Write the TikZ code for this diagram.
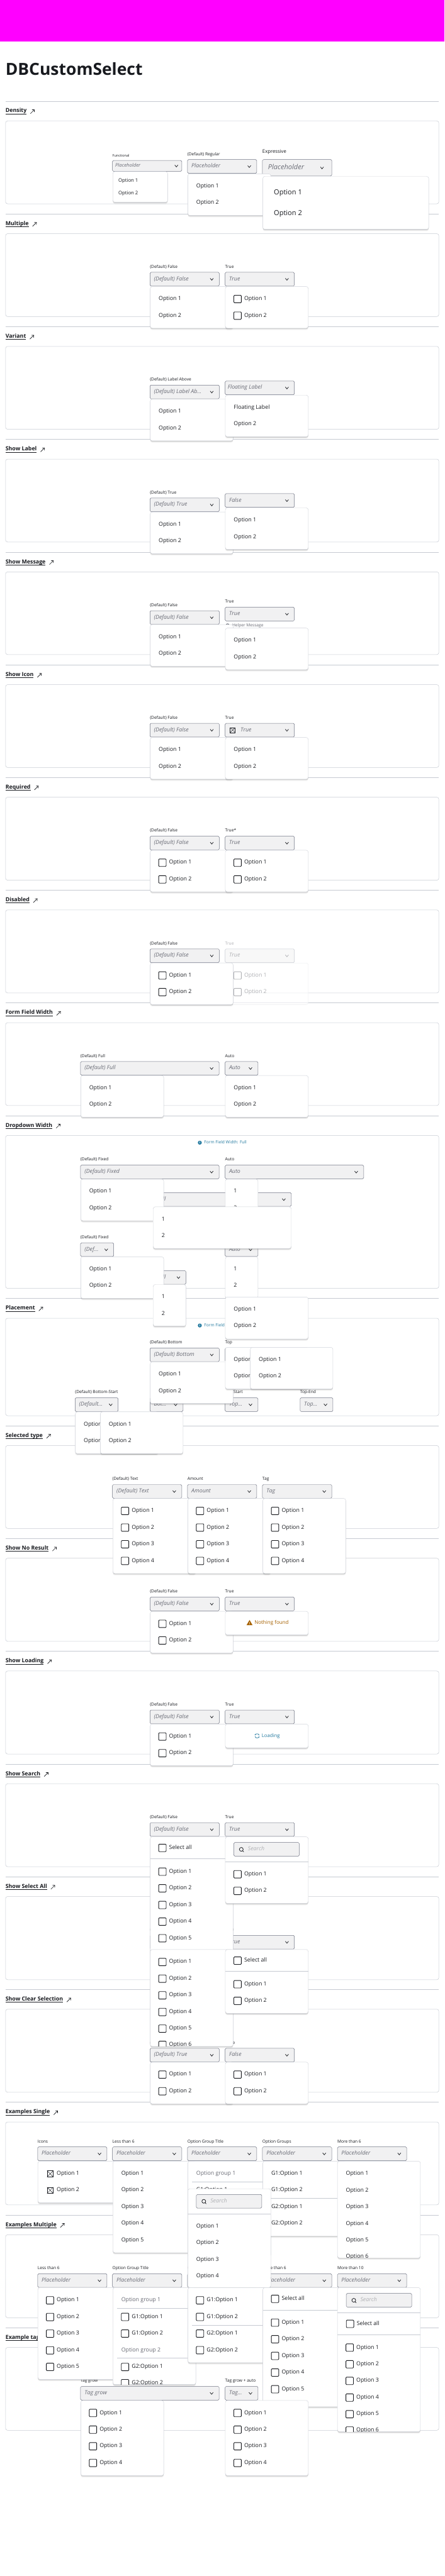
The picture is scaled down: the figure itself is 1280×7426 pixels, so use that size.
\documentclass[tikz,border=0pt]{standalone}
\usepackage{fontspec}
\setmainfont{Open Sans}
\usetikzlibrary{arrows.meta, shapes.geometric, positioning, shadows}
\definecolor{dbink}{RGB}{24,26,31}
\definecolor{dbmuted}{RGB}{104,106,116}
\definecolor{dbfield}{RGB}{241,241,242}
\definecolor{dbedge}{RGB}{108,112,128}
\definecolor{dbline}{RGB}{198,202,210}
\definecolor{dbfaint}{RGB}{175,176,180}
\definecolor{dbinfo}{RGB}{36,122,160}
\definecolor{dbwarn}{RGB}{166,97,0}
\definecolor{dbpink}{RGB}{255,0,255}
\pgfdeclarelayer{menu}
\pgfsetlayers{main,menu}

\newcommand{\sechead}[4]{%
  \coordinate (#1ra) at (16,#2); \coordinate (#1rb) at (1264,#2);
  \draw[secrule] (#1ra)--(#1rb);
  \node[sectitle] (#1) at (16,{#2+29}) {#3};
  \draw[secrule, dbink, line width=1pt] (#1.south west)--(#1.south east);
  \draw[linkarrow] ([shift={(11,7)}]#1.east)--([shift={(23,-5)}]#1.east);
  \node[card, minimum height={(#4-#2-57)*1pt}] (#1c) at (16,{#2+57}) {};}
\newcommand{\chev}[3][dbink]{%
  \draw[chevron,#1] ([shift={(-#3-4.5,-2.5)}]#2.east)--([shift={(-#3,3)}]#2.east)--([shift={(-#3+4.5,-2.5)}]#2.east);}
\newcommand{\selbare}[5]{%
  \node[field, minimum width=#4pt] (#1) at (#2,#3) {};
  \node[fieldtext] (#1t) at ([xshift=11.5pt]#1.west) {#5};
  \chev{#1}{21.5}}
\newcommand{\selbox}[6]{%
  \selbare{#1}{#2}{#3}{#4}{#5}
  \node[fieldlabel] (#1l) at ([yshift=15pt]#1.north west) {#6};}
\newcommand{\ddbox}[5]{%
  \begin{pgfonlayer}{menu}
  \node[ddmenu, minimum width=#4pt, minimum height=#5pt] (#1) at (#2,#3) {};
  \end{pgfonlayer}}
\newcommand{\ddrow}[6][]{%
  \begin{pgfonlayer}{menu}
  \node[opttext,#1] (#2#3) at ([shift={(#4,#5)}]#2.north west) {#6};
  \end{pgfonlayer}}
\newcommand{\ddchk}[6][dbink]{%
  \begin{pgfonlayer}{menu}
  \node[chkbox, draw=#1] (#2#3b) at ([shift={(#4,#5)}]#2.north west) {};
  \node[opttext, text=#1, right=8.5pt of #2#3b] (#2#3) {#6};
  \end{pgfonlayer}}
\newcommand{\ddx}[5]{%
  \begin{pgfonlayer}{menu}
  \node[iconbox, minimum size=18pt] (#1#2b) at ([shift={(#3,#4)}]#1.north west) {};
  \draw[iconbar] (#1#2b.north west)--(#1#2b.south east); \draw[iconbar] (#1#2b.north east)--(#1#2b.south west);
  \node[opttext, right=10pt of #1#2b] (#1#2) {#5};
  \end{pgfonlayer}}
\newcommand{\ddline}[4]{%
  \begin{pgfonlayer}{menu}
  \draw[secrule] ([shift={(#2,#3)}]#1.north west)--([shift={(#4,#3)}]#1.north west);
  \end{pgfonlayer}}
\newcommand{\optrows}[3]{%
  \foreach \i [evaluate=\i as \rowy using #2+(\i-1)*48] in {1,...,#3} {\ddrow{#1}{o\i}{24.5}{\rowy}{Option \i}}}
\newcommand{\chkrows}[3]{%
  \foreach \i [evaluate=\i as \rowy using #2+(\i-1)*48] in {1,...,#3} {\ddchk{#1}{o\i}{24.5}{\rowy}{Option \i}}}
\newcommand{\plainmenu}[6]{\ddbox{#1}{#2}{#3}{#4}{#5}\optrows{#1}{36}{#6}}
\newcommand{\checkmenu}[6]{\ddbox{#1}{#2}{#3}{#4}{#5}\chkrows{#1}{36}{#6}}
\newcommand{\nummenu}[5]{\ddbox{#1}{#2}{#3}{#4}{#5}\ddrow{#1}{n1}{24.5}{36}{1}\ddrow{#1}{n2}{24.5}{84}{2}}
\newcommand{\cutopt}[3]{%
  \begin{pgfonlayer}{menu}\begin{scope}
  \clip (#1.south west) rectangle (#1.north east);
  \node[opttext] (#1cut) at ([shift={(24.5,#2)}]#1.north west) {#3};
  \end{scope}\end{pgfonlayer}}
\newcommand{\cutchk}[3]{%
  \begin{pgfonlayer}{menu}\begin{scope}
  \clip (#1.south west) rectangle (#1.north east);
  \node[chkbox] (#1cutb) at ([shift={(24.5,#2)}]#1.north west) {};
  \node[opttext, right=8.5pt of #1cutb] (#1cut) {#3};
  \end{scope}\end{pgfonlayer}}
\newcommand{\ddsearch}[4]{%
  \begin{pgfonlayer}{menu}
  \node[field, minimum width=#4pt] (#1s) at ([shift={(#2,#3)}]#1.north west) {};
  \node[lens] (#1g) at ([xshift=21.5pt]#1s.west) {};
  \draw[lensbar] (#1g.south east)--([shift={(3,3.5)}]#1g.south east);
  \node[searchtext] (#1st) at ([xshift=40.5pt]#1s.west) {Search};
  \end{pgfonlayer}}

\begin{document}
\begin{tikzpicture}[
  x=1pt, y=-1pt,
  flat/.style={inner sep=0pt, outer sep=0pt},
  fs/.style={font=\fontsize{#1}{#1}\selectfont, text height=#1*.75pt, text depth=#1*.25pt},
  secrule/.style={draw=dbline, line width=.9pt},
  sectitle/.style={flat, anchor=west, fs=16, text=dbink, execute at begin node=\bfseries},
  linkarrow/.style={dbink, line width=1.2pt, -{Straight Barb[length=5pt, width=9pt]}},
  card/.style={flat, anchor=north west, draw=dbline, line width=.9pt, rounded corners=6pt, minimum width=1248pt},
  field/.style={flat, anchor=north west, draw=dbedge, fill=dbfield, line width=.9pt, rounded corners=3pt, minimum height=39.5pt},
  fieldtext/.style={flat, anchor=west, fs=16, text=dbmuted, execute at begin node=\itshape},
  fieldlabel/.style={flat, anchor=west, fs=12, text=dbink},
  chevron/.style={line width=1.3pt},
  ddmenu/.style={flat, anchor=north west, fill=white, draw=dbline!85, line width=.8pt, rounded corners=6pt,
                 drop shadow={shadow xshift=0pt, shadow yshift=-5pt, opacity=.12},
                 drop shadow={shadow xshift=0pt, shadow yshift=-2.5pt, opacity=.28}},
  ddflat/.style={flat, anchor=north west, fill=white, fill opacity=.6, draw=dbline!40, line width=.6pt, rounded corners=6pt},
  opttext/.style={flat, anchor=west, fs=16, text=dbink},
  grouptext/.style={text=dbmuted},
  chkbox/.style={flat, anchor=west, draw=dbink, fill=white, line width=1.6pt, rounded corners=2pt, minimum size=21.5pt},
  iconbox/.style={flat, anchor=west, draw=dbink, line width=.8pt},
  iconbar/.style={dbink, line width=.8pt},
  lens/.style={flat, circle, draw=dbink, line width=1.4pt, minimum size=11pt},
  lensbar/.style={dbink, line width=1.4pt},
  searchtext/.style={flat, anchor=west, fs=16, text=dbfaint, execute at begin node=\itshape},
  infodot/.style={flat, circle, fill=dbinfo, text=white, minimum size=11.5pt, font=\fontsize{9}{9}\selectfont\bfseries},
  infotext/.style={flat, anchor=west, fs=12, text=dbinfo},
  helpdot/.style={flat, circle, fill=dbmuted, text=white, minimum size=11.5pt, font=\fontsize{9}{9}\selectfont\bfseries},
  helptext/.style={flat, anchor=west, fs=12, text=dbmuted},
  warnmark/.style={flat, regular polygon, regular polygon sides=3, fill=dbwarn, text=white, minimum size=20pt, font=\fontsize{9}{9}\selectfont\bfseries},
  spin/.style={dbinfo, line width=1.5pt, -{Stealth[length=3.5pt]}}
]
\fill[white] (0,0) rectangle (1280,7426);
\useasboundingbox (0,0) rectangle (1280,7426);
\node[flat, anchor=north west, fill=dbpink, minimum width=1280pt, minimum height=119pt] (banner) at (0,0) {};
\node[flat, anchor=base west, font=\fontsize{48}{48}\selectfont\bfseries, text=dbink] (pagetitle) at (16,216) {DBCustomSelect};

\sechead{dns}{291.5}{Density}{587.5}
\node[field, minimum width=199.5pt, minimum height=31.5pt] (dnsF) at (324,462.5) {};
\node[fieldtext, fs=14] (dnsFt) at ([xshift=8pt]dnsF.west) {Placeholder};
\node[fieldlabel, fs=10] (dnsFl) at ([yshift=13pt]dnsF.north west) {Functional};
\chev{dnsF}{15.5}
\selbox{dnsR}{540}{460}{199.5}{Placeholder}{(Default) Regular}
\node[field, minimum width=199.5pt, minimum height=47.5pt] (dnsE) at (756,460) {};
\node[fieldtext, fs=20] (dnsEt) at ([xshift=16pt]dnsE.west) {Placeholder};
\node[fieldlabel, fs=14] (dnsEl) at ([yshift=22pt]dnsE.north west) {Expressive};
\chev{dnsE}{28}
\ddbox{dnsFm}{325}{494.6}{158}{88.4}
\ddrow[fs=14]{dnsFm}{o1}{16}{26.4}{Option 1}
\ddrow[fs=14]{dnsFm}{o2}{16}{62.4}{Option 2}
\plainmenu{dnsRm}{541}{501}{239}{120}{2}
\ddbox{dnsEm}{757}{508.5}{478}{152.5}
\ddrow[fs=20]{dnsEm}{o1}{32}{47.5}{Option 1}
\ddrow[fs=20]{dnsEm}{o2}{32}{107.5}{Option 2}

\sechead{mul}{616.5}{Multiple}{912.5}
\selbox{mulA}{432}{785}{199.5}{(Default) False}{(Default) False}
\selbox{mulB}{648.5}{785}{199.5}{True}{True}
\plainmenu{mulAm}{432.6}{826}{239}{120}{2}
\checkmenu{mulBm}{649}{826}{239}{120}{2}

\sechead{vrn}{941.5}{Variant}{1237.5}
\selbox{vrnA}{432}{1110}{199.5}{(Default) Label Ab...}{(Default) Label Above}
\selbare{vrnB}{648.5}{1098.4}{199.5}{}
\node[fieldtext] (vrnBf) at ([xshift=7.5pt]vrnB.west) {Floating Label};
\plainmenu{vrnAm}{432.6}{1150.8}{239}{120}{2}
\ddbox{vrnBm}{649}{1139}{239}{120}
\ddrow{vrnBm}{o1}{24.5}{36}{Floating Label}
\ddrow{vrnBm}{o2}{24.5}{84}{Option 2}

\sechead{lbl}{1266.5}{Show Label}{1562.5}
\selbox{lblA}{432}{1435.5}{199.5}{(Default) True}{(Default) True}
\selbare{lblB}{648.5}{1423}{199.5}{False}
\plainmenu{lblAm}{432.6}{1476}{239}{120}{2}
\plainmenu{lblBm}{649}{1464}{239}{120}{2}

\sechead{msg}{1591.5}{Show Message}{1887}
\selbox{msgA}{432}{1760.4}{199.5}{(Default) False}{(Default) False}
\selbox{msgB}{648.5}{1750.4}{199.5}{True}{True}
\node[helpdot] (msgBi) at (655.5,1803) {i};
\node[helptext] (msgBh) at (669,1803) {Helper Message};
\plainmenu{msgAm}{432.6}{1800.6}{239}{120}{2}
\plainmenu{msgBm}{649}{1810.5}{239}{120}{2}

\sechead{icn}{1916.5}{Show Icon}{2212.5}
\selbox{icnA}{432}{2085}{199.5}{(Default) False}{(Default) False}
\selbox{icnB}{648.5}{2085}{199.5}{}{True}
\node[iconbox, minimum size=14pt] (icnBx) at ([xshift=14.5pt]icnB.west) {};
\draw[iconbar] (icnBx.north west)--(icnBx.south east); \draw[iconbar] (icnBx.north east)--(icnBx.south west);
\node[fieldtext, right=16pt of icnBx] (icnBt2) {True};
\plainmenu{icnAm}{432.6}{2126}{239}{120}{2}
\plainmenu{icnBm}{649}{2126}{239}{120}{2}

\sechead{req}{2241}{Required}{2537.5}
\selbox{reqA}{432}{2410.5}{199.5}{(Default) False}{(Default) False}
\selbox{reqB}{648.5}{2410.5}{199.5}{True}{True*}
\checkmenu{reqAm}{432.6}{2451}{239}{120}{2}
\checkmenu{reqBm}{649}{2451}{239}{120}{2}

\sechead{dis}{2566}{Disabled}{2862.5}
\selbox{disA}{432}{2735.4}{199.5}{(Default) False}{(Default) False}
\node[field, draw=dbline, fill=dbfield!50, minimum width=199.5pt] (disB) at (648.5,2735.4) {};
\node[fieldtext, text=dbfaint] (disBt) at ([xshift=11.5pt]disB.west) {True};
\node[fieldlabel, text=dbfaint] (disBl) at ([yshift=15pt]disB.north west) {True};
\chev[dbfaint]{disB}{21.5}
\begin{pgfonlayer}{menu}
\node[ddflat, minimum width=239pt, minimum height=120pt] (disBm) at (649,2776) {};
\end{pgfonlayer}
\ddchk[dbfaint]{disBm}{o1}{24.5}{36}{Option 1}
\ddchk[dbfaint]{disBm}{o2}{24.5}{84}{Option 2}
\checkmenu{disAm}{432.6}{2776}{239}{120}{2}

\sechead{ffw}{2891}{Form Field Width}{3187}
\selbox{ffwA}{232}{3060}{399}{(Default) Full}{(Default) Full}
\selbox{ffwB}{648.5}{3060}{94.5}{Auto}{Auto}
\plainmenu{ffwAm}{232.6}{3100.5}{239}{120}{2}
\plainmenu{ffwBm}{649}{3100.5}{239}{120}{2}

\sechead{ddw}{3216}{Dropdown Width}{3714}
\node[infodot] (ddwi) at (575.5,3294) {i};
\node[infotext, right=7pt of ddwi] (ddwit) {Form Field Width: Full};
\selbox{ddwA}{232}{3358.7}{399}{(Default) Fixed}{(Default) Fixed}
\selbox{ddwB}{648.5}{3358.7}{399}{Auto}{Auto}
\selbare{ddwC}{441}{3438}{398}{Full}
\selbox{ddwD}{232}{3582.7}{95.5}{(Def...}{(Default) Fixed}
\selbare{ddwE}{648.5}{3582.7}{94.5}{Auto}
\selbare{ddwF}{441}{3662.8}{94.5}{Full}
\plainmenu{ddwAm}{232.6}{3399}{239}{120}{2}
\nummenu{ddwBm}{649}{3399}{94}{120}
\nummenu{ddwCm}{441}{3479}{398}{120}
\plainmenu{ddwDm}{232.6}{3623}{239}{120}{2}
\nummenu{ddwEm}{649}{3623}{94}{120}
\nummenu{ddwFm}{441}{3703}{94.5}{120}

\sechead{plc}{3743}{Placement}{4081}
\node[infodot] (plci) at (575.5,3821) {i};
\node[infotext, right=7pt of plci] (plcit) {Form Field Width: Full};
\selbox{plcA}{432}{3885.7}{199.5}{(Default) Bottom}{(Default) Bottom}
\selbox{plcB}{648.5}{3885.7}{199.5}{Top}{Top}
\selbox{plcC}{216.3}{4029.5}{124}{(Default...}{(Default) Bottom-Start}
\selbare{plcD}{432}{4029.5}{95.3}{Bot...}
\selbox{plcE}{648.5}{4029.5}{94.5}{Top...}{Top-Start}
\selbox{plcF}{864.5}{4029.5}{94.5}{Top...}{Top-End}
\plainmenu{plcAm}{432.6}{3926}{239}{120}{2}
\plainmenu{plcBm}{649}{3739}{239}{121}{2}
\plainmenu{plcCm}{217}{4070}{239}{120.6}{2}
\plainmenu{plcDm}{289}{4070}{238.3}{120.6}{2}
\plainmenu{plcEm}{649}{3884}{239}{120}{2}
\plainmenu{plcFm}{721}{3884}{238}{120}{2}

\sechead{typ}{4110}{Selected type}{4406}
\selbox{typA}{324}{4279.5}{199.5}{(Default) Text}{(Default) Text}
\selbox{typB}{540}{4279.5}{199.5}{Amount}{Amount}
\selbox{typC}{756}{4279.5}{199.5}{Tag}{Tag}
\checkmenu{typAm}{325}{4319.6}{239}{216.4}{4}
\checkmenu{typBm}{541}{4319.6}{239}{216.4}{4}
\checkmenu{typCm}{757}{4319.6}{239}{216.4}{4}

\sechead{nrs}{4435}{Show No Result}{4731.5}
\selbox{nrsA}{432}{4604}{199.5}{(Default) False}{(Default) False}
\selbox{nrsB}{648.5}{4604}{199.5}{True}{True}
\checkmenu{nrsAm}{432.6}{4645}{239}{120}{2}
\ddbox{nrsBm}{649}{4645}{239}{68}
\begin{pgfonlayer}{menu}
\node[warnmark] (nrsBw) at ([shift={(69.8,35)}]nrsBm.north west) {!};
\node[infotext, fs=14.5, text=dbwarn] (nrsBt) at ([shift={(84,34)}]nrsBm.north west) {Nothing found};
\end{pgfonlayer}

\sechead{lod}{4760}{Show Loading}{5056.5}
\selbox{lodA}{432}{4929.5}{199.5}{(Default) False}{(Default) False}
\selbox{lodB}{648.5}{4929.5}{199.5}{True}{True}
\checkmenu{lodAm}{432.6}{4970}{239}{120}{2}
\ddbox{lodBm}{649}{4970}{239}{68.6}
\begin{pgfonlayer}{menu}
\coordinate (lodBc) at ([shift={(91.5,34)}]lodBm.north west);
\draw[spin] ([shift={(6,-2)}]lodBc) arc[start angle=-20, end angle=-170, radius=6.3];
\draw[spin] ([shift={(-6,2)}]lodBc) arc[start angle=160, end angle=10, radius=6.3];
\node[infotext, fs=14] (lodBt) at ([shift={(105,34)}]lodBm.north west) {Loading};
\end{pgfonlayer}

\sechead{src}{5085}{Show Search}{5381}
\selbox{srcA}{432}{5254.3}{199.5}{(Default) False}{(Default) False}
\selbox{srcB}{648.5}{5254.3}{199.5}{True}{True}
\ddbox{srcAm}{432.6}{5295}{239}{340}
\ddchk{srcAm}{all}{24.5}{32}{Select all}
\ddline{srcAm}{0}{63.5}{239}
\chkrows{srcAm}{100.5}{5}
\ddbox{srcBm}{649}{5295}{239}{192}
\ddsearch{srcBm}{24.5}{16.4}{188.5}
\ddline{srcBm}{0}{71.5}{239}
\chkrows{srcBm}{108}{2}

\sechead{all}{5410}{Show Select All}{5707}
\selbox{allA}{432}{5579}{199.5}{(Default) False}{(Default) False}
\selbox{allB}{648.5}{5579}{199.5}{True}{True}
\ddbox{allAm}{432.6}{5620}{239}{279}
\chkrows{allAm}{36}{5}
\cutchk{allAm}{275}{Option 6}
\ddbox{allBm}{649}{5620}{239}{184}
\ddchk{allBm}{all}{24.5}{32}{Select all}
\ddline{allBm}{0}{63}{239}
\chkrows{allBm}{100}{2}

\sechead{clr}{5735}{Show Clear Selection}{6031.5}
\selbox{clrA}{432}{5904.5}{199.5}{(Default) True}{(Default) True}
\selbox{clrB}{648.5}{5904.5}{199.5}{False}{False}
\checkmenu{clrAm}{432.6}{5944.5}{239}{120.3}{2}
\checkmenu{clrBm}{649}{5944.5}{239}{120.3}{2}

\sechead{esi}{6060}{Examples Single}{6356}
\selbox{esiA}{108.6}{6189}{199.5}{Placeholder}{Icons}
\selbox{esiB}{324}{6189}{199.5}{Placeholder}{Less than 6}
\selbox{esiC}{540}{6189}{199.5}{Placeholder}{Option Group Title}
\selbox{esiD}{756}{6189}{199.5}{Placeholder}{Option Groups}
\selbox{esiE}{972}{6189}{199.5}{Placeholder}{More than 6}
\ddbox{esiAm}{109}{6230}{239}{120}
\ddx{esiAm}{o1}{26.5}{36.5}{Option 1}
\ddx{esiAm}{o2}{26.5}{84}{Option 2}
\plainmenu{esiBm}{325}{6230}{239}{264}{5}
\ddbox{esiCm}{541}{6230}{239}{275}
\ddrow[grouptext]{esiCm}{g1}{24.5}{36.5}{Option group 1}
\ddline{esiCm}{11.6}{59.3}{239}
\ddrow{esiCm}{o1}{24.5}{84}{G1:Option 1}
\ddbox{esiDm}{757}{6230}{239}{216}
\ddrow{esiDm}{o1}{24.5}{36.5}{G1:Option 1}
\ddrow{esiDm}{o2}{24.5}{84}{G1:Option 2}
\ddline{esiDm}{11.6}{107}{239}
\ddrow{esiDm}{o3}{24.5}{132}{G2:Option 1}
\ddrow{esiDm}{o4}{24.5}{180}{G2:Option 2}
\ddbox{esiEm}{972}{6230}{239}{279}
\optrows{esiEm}{36.5}{5}
\cutopt{esiEm}{275}{Option 6}
\ddbox{esiSm}{541}{6309.6}{239}{285}
\ddsearch{esiSm}{24.5}{16.4}{188.5}
\ddline{esiSm}{0}{72}{239}
\optrows{esiSm}{108.8}{4}

\sechead{emu}{6385}{Examples Multiple}{6681.5}
\selbox{emuA}{108.6}{6554.5}{199.5}{Placeholder}{Less than 6}
\selbox{emuB}{324}{6554.5}{199.5}{Placeholder}{Option Group Title}
\selbox{emuC}{540}{6554.5}{199.5}{Placeholder}{Option Groups}
\selbox{emuD}{756}{6554.5}{199.5}{Placeholder}{More than 6}
\selbox{emuE}{972}{6554.5}{199.5}{Placeholder}{More than 10}
\ddbox{emuAm}{109}{6594.5}{239}{264.5}
\chkrows{emuAm}{36.8}{5}
\ddbox{emuBm}{325}{6594.5}{239}{279.5}
\ddrow[grouptext]{emuBm}{g1}{24.5}{36.8}{Option group 1}
\ddline{emuBm}{12}{60}{239}
\ddchk{emuBm}{o1}{24.5}{84.5}{G1:Option 1}
\ddchk{emuBm}{o2}{24.5}{132.5}{G1:Option 2}
\ddrow[grouptext]{emuBm}{g2}{24.5}{180.5}{Option group 2}
\ddline{emuBm}{12}{203.5}{239}
\ddchk{emuBm}{o3}{24.5}{229}{G2:Option 1}
\cutchk{emuBm}{275.5}{G2:Option 2}
\ddbox{emuCm}{541}{6594.5}{239}{216.5}
\ddchk{emuCm}{o1}{24.5}{36.8}{G1:Option 1}
\ddchk{emuCm}{o2}{24.5}{84.5}{G1:Option 2}
\ddline{emuCm}{12}{108}{239}
\ddchk{emuCm}{o3}{24.5}{132.5}{G2:Option 1}
\ddchk{emuCm}{o4}{24.5}{180.5}{G2:Option 2}
\ddbox{emuDm}{757}{6594.5}{239}{343.5}
\ddchk{emuDm}{all}{24.5}{32.5}{Select all}
\ddline{emuDm}{0}{64.2}{239}
\chkrows{emuDm}{101}{5}
\ddbox{emuEm}{972}{6594.5}{239}{415.5}
\ddsearch{emuEm}{25.5}{16.8}{188.5}
\ddline{emuEm}{0}{72.2}{239}
\ddchk{emuEm}{all}{25.5}{104.5}{Select all}
\ddline{emuEm}{0}{136}{239}
\chkrows{emuEm}{173}{5}
\cutchk{emuEm}{412}{Option 6}

\sechead{tag}{6710}{Example tag}{7006}
\selbox{tagA}{232}{6879.3}{399}{Tag grow}{Tag grow}
\selbox{tagB}{648.5}{6879.3}{94.5}{Tag...}{Tag grow + auto}
\checkmenu{tagAm}{232.6}{6920}{239}{216.5}{4}
\checkmenu{tagBm}{649}{6920}{239}{216.5}{4}
\end{tikzpicture}
\end{document}
